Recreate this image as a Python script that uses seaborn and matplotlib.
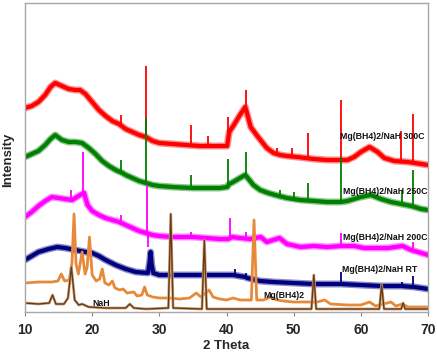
import matplotlib
matplotlib.use("Agg")
import matplotlib.pyplot as plt
import numpy as np
import seaborn as sns

# ---- data (2 Theta, relative intensity) ----
# broad (noisy) backgrounds and sharp reflections of the four in-situ patterns
red_base_x = [10, 11, 12, 13, 13.8, 14.5, 15.5, 16.5, 17.5, 18.2, 19, 20, 21, 22, 23,
              24, 25, 26, 27, 28, 29, 30, 32, 34, 36, 38, 39, 40.1, 40.4, 41, 42,
              42.8, 43.6, 44.7, 46, 47, 48, 49, 50.5, 53, 55, 58, 59, 60, 61.3, 62.5,
              63.5, 65, 67, 69, 70]
red_base_y = [204, 206, 210, 217, 225, 229, 226, 223, 222, 222, 218, 210, 202, 196, 191,
              188, 183, 180, 177, 175, 171, 169, 168, 167, 166, 166, 166, 166, 180, 186, 197,
              205, 185, 175, 164, 159, 157, 156, 155, 153, 152, 152, 155, 160, 165, 160,
              154, 151, 150, 148, 147]
red_peak_x = [24.3, 28.05, 34.66, 37.3, 40.2, 42.9, 47.5, 49.7, 52.1, 57.0, 66.0, 67.7]
red_peak_y = [197, 246, 187, 176, 195, 222, 164, 164, 179, 212, 181, 198]

green_base_x = [10, 11, 12, 13, 13.8, 14.5, 15.5, 16.5, 17.5, 18.5, 19.5, 20.5, 21.5,
                22.5, 23.5, 24.5, 25, 26, 27, 28, 29, 30, 32, 35, 37, 39, 40.1, 40.4,
                41, 42, 42.8, 44, 45, 46.2, 47.8, 49, 51, 53, 55, 57, 58, 60, 61.5, 63,
                64.5, 66, 67.5, 69, 70]
green_base_y = [155, 158, 161, 167, 173, 177, 172, 170, 170, 169, 164, 158, 151,
                146, 142, 139, 137, 134, 131, 129, 127, 126, 125, 124, 124, 124, 125, 128,
                130, 134, 137, 127, 122, 119, 116, 114, 112, 111, 110, 110, 111, 115, 117,
                113, 110, 108, 106, 103, 102]
green_peak_x = [24.3, 28.05, 34.66, 40.2, 42.9, 47.9, 50.0, 52.1, 57.0, 66.1, 67.7]
green_peak_y = [152, 194, 137, 153, 160, 122, 120, 129, 155, 122, 142]

magenta_base_x = [10, 11, 12, 13, 14, 15, 16, 17, 17.5, 18.2, 18.8, 19.3, 20, 21, 22,
                  23, 24, 25, 26, 27, 28, 29, 30, 32, 35, 37, 39, 40.3, 40.8, 42, 43.5,
                  45.1, 46, 47.9, 49, 51, 53, 55, 57, 59, 60.5, 62.5, 64, 66.2, 67.5,
                  69, 70]
magenta_base_y = [95, 100, 106, 111, 115, 114, 113, 112, 114, 117, 119, 107, 101, 97, 94,
                  92, 90, 87, 84, 81, 79, 77, 76, 75, 75, 74, 73, 73, 75, 74, 73,
                  75, 70, 74, 68, 65, 66, 65, 66, 66, 64, 64, 64, 66, 62,
                  59, 57]
magenta_peak_x = [16.8, 18.7, 24.3, 28.2, 28.35, 34.66, 40.5, 42.9, 57.0, 67.7]
magenta_peak_y = [122, 160, 97, 127, 65, 80, 94, 80, 79, 70]

navy_base_x = [10, 11, 12, 13.5, 14.8, 16, 17.5, 19, 20, 21, 22, 23.5, 25, 26.5, 28.3,
               28.55, 28.7, 28.85, 29.1, 30, 32, 35, 38, 41, 42.8, 43.1, 45, 47, 50, 53,
               57, 60, 63, 66, 68, 70]
navy_base_y = [52, 56, 60, 63, 65, 64, 62, 60, 59, 56, 52, 47, 43, 40, 39,
               50, 60, 48, 39, 37, 37, 37, 37, 37, 35, 34, 31, 30, 29, 28,
               28, 27, 26, 26, 25, 23]
navy_peak_x = [41.2, 42.95, 57.05, 66.1, 67.8]
navy_peak_y = [43, 39, 40, 30, 36]

# reference patterns
orange_x = [10, 12, 14, 14.9, 15.4, 15.9, 16.6, 17.0, 17.3, 17.6, 17.95, 18.5, 18.95,
            19.25, 19.6, 20.0, 20.6, 21.1, 21.5, 21.9, 22.5, 23.0, 23.4, 24.1, 24.6,
            25.2, 26.2, 26.7, 27.4, 27.8, 28.2, 29, 30, 31.5, 33, 34.5, 35.5, 36.2,
            37.4, 38, 39, 40, 41, 42, 43.7, 44.1, 44.5, 45.5, 46.6, 47.5, 48.5, 50,
            52, 53.5, 54.6, 55.5, 58, 60, 61.3, 62.2, 64.5, 65.2, 66.2, 67, 70]
orange_y = [29, 30, 30, 31, 38, 31, 32, 50, 98, 48, 38, 60, 38,
            45, 75, 37, 31, 33, 43, 29, 27, 31, 24, 22, 23,
            19, 20, 16, 17, 25, 17, 15, 14, 14, 13, 14, 19, 15,
            22, 15, 13, 12, 14, 12, 12, 92, 12, 12, 15, 12, 11, 10,
            10, 10, 12, 8, 7, 7, 10, 6, 10, 6, 8, 5, 5]

brown_x = [10, 12, 13.6, 14.1, 14.6, 15.8, 16.4, 16.9, 17.4, 18.0, 18.5, 19.5, 22, 25.0,
           25.6, 26.2, 28, 31.35, 31.7, 32.05, 36.35, 36.7, 37.05, 45, 52.65, 53.0,
           53.35, 62.75, 63.1, 63.45, 66.0, 66.3, 66.6, 70]
brown_y = [9, 8, 9, 17, 8, 8, 14, 45, 12, 7, 8, 5, 4, 4,
           8, 4, 3, 4, 98, 4, 3, 72, 3, 3, 3, 37,
           3, 3, 27, 3, 3, 9, 3, 3]

x_ticks = [10, 20, 30, 40, 50, 60, 70]

labels = ["Mg(BH4)2/NaH 300C", "Mg(BH4)2/NaH 250C", "Mg(BH4)2/NaH 200C",
          "Mg(BH4)2/NaH RT", "Mg(BH4)2", "NaH"]
label_x = [56.9, 57.4, 57.4, 57.2, 45.5, 20.0]
label_y = [176, 121, 75, 42, 17, 9]

# ---- drawing ----
sns.set_style("white")
plt.rcParams['font.family'] = ['Liberation Sans', 'DejaVu Sans']

fig = plt.figure(figsize=(4.37, 3.55), dpi=100)
ax = fig.add_axes([25 / 437, 1 - 312 / 355, 403 / 437, 309 / 355])

noisy = [
    (red_base_x, red_base_y, red_peak_x, red_peak_y, "#ff0000"),
    (green_base_x, green_base_y, green_peak_x, green_peak_y, "#008000"),
    (magenta_base_x, magenta_base_y, magenta_peak_x, magenta_peak_y, "#ff00ff"),
    (navy_base_x, navy_base_y, navy_peak_x, navy_peak_y, "#000080"),
]
for bx, by, px, py, c in noisy:
    sns.lineplot(x=bx, y=by, color=c, lw=5.0, alpha=0.45, ax=ax,
                 estimator=None, sort=False)
    sns.lineplot(x=bx, y=by, color=c, lw=3.0, ax=ax, estimator=None, sort=False)
    bottoms = np.interp(px, bx, by)
    ax.vlines(px, bottoms, py, color=c, lw=1.3)

sns.lineplot(x=orange_x, y=orange_y, color="#e8893a", lw=2.0, ax=ax,
             estimator=None, sort=False)
sns.lineplot(x=brown_x, y=brown_y, color="#c9a47e", lw=2.0, ax=ax,
             estimator=None, sort=False)
sns.lineplot(x=brown_x, y=brown_y, color="#6b3a14", lw=1.0, ax=ax,
             estimator=None, sort=False)

ax.set_xlim(10, 70)
ax.set_ylim(0, 309)
ax.set_xticks(x_ticks)
ax.set_xticklabels([str(t) for t in x_ticks], fontsize=10, fontweight="bold")
ax.set_yticks([])
ax.tick_params(axis="x", direction="out", length=3, width=0.8, color="#888888", pad=5,
               bottom=True)
for s in ax.spines.values():
    s.set_color("#a8a8a8")
    s.set_linewidth(1.0)
ax.set_xlabel("2 Theta", fontsize=9.5, fontweight="bold", labelpad=2)
fig.text(8 / 437, 1 - 160 / 355, "Intensity", rotation=90, fontsize=9.5,
         fontweight="bold", ha="center", va="center")

for lx, ly, txt in zip(label_x, label_y, labels):
    ax.text(lx, ly, txt, fontsize=6.3, fontweight="bold", ha="left", va="center",
            color="#111111")

fig.savefig("out.png", dpi=100)
